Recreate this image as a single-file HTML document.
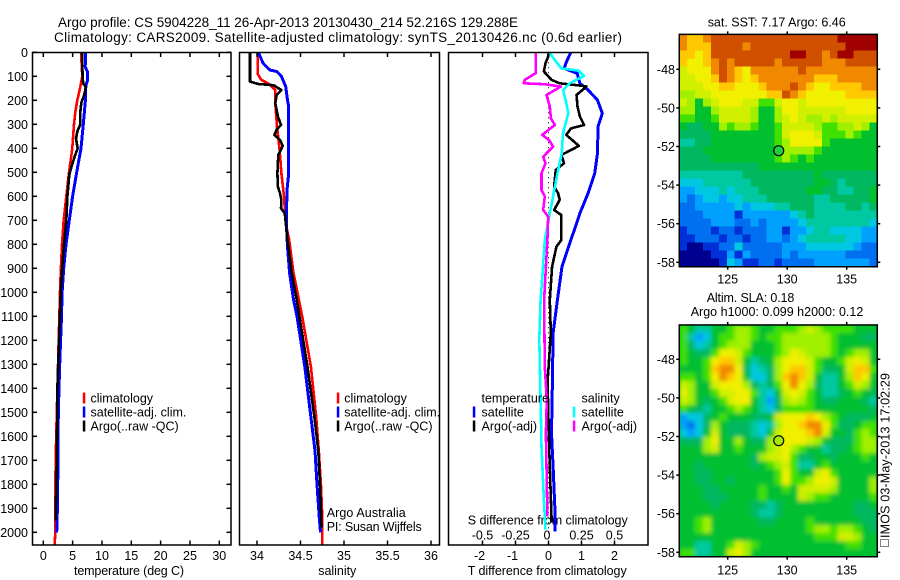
<!DOCTYPE html>
<html>
<head>
<meta charset="utf-8">
<title>Argo profile chart</title>
<style>
html,body{margin:0;padding:0;background:#fff;}
svg{display:block;}
text{font-family:"Liberation Sans",sans-serif;font-size:12.5px;fill:#000;}
</style>
</head>
<body>
<svg id="chart" width="900" height="580" viewBox="0 0 900 580" xmlns="http://www.w3.org/2000/svg">
<defs>
<filter id="soften" x="-5%" y="-5%" width="110%" height="110%"><feGaussianBlur stdDeviation="2"/></filter>
<clipPath id="sla-clip"><rect x="679.3" y="325" width="198" height="231.7"/></clipPath>
</defs>
<rect width="900" height="580" fill="#fff"/>
<text x="58" y="27" style="font-size:13.5px" textLength="460" lengthAdjust="spacing">Argo profile: CS 5904228_11 26-Apr-2013 20130430_214 52.216S 129.288E</text>
<text x="54" y="42" style="font-size:13.5px" textLength="568" lengthAdjust="spacing">Climatology: CARS2009. Satellite-adjusted climatology: synTS_20130426.nc (0.6d earlier)</text>
<text x="74" y="575" textLength="110" lengthAdjust="spacing">temperature (deg C)</text>
<text x="318.3" y="575" textLength="38" lengthAdjust="spacing">salinity</text>
<text x="467.7" y="575" textLength="159" lengthAdjust="spacing">T difference from climatology</text>
<text x="467.7" y="524.5" textLength="160" lengthAdjust="spacing">S difference from climatology</text>
<text x="326.7" y="517" textLength="79" lengthAdjust="spacing">Argo Australia</text>
<text x="326.7" y="531" textLength="95" lengthAdjust="spacing">PI: Susan Wijffels</text>
<text x="707.7" y="26.5" textLength="138" lengthAdjust="spacing">sat. SST: 7.17 Argo: 6.46</text>
<text x="706.7" y="302" textLength="87.6" lengthAdjust="spacing">Altim. SLA: 0.18</text>
<text x="690.7" y="316" textLength="172.6" lengthAdjust="spacing">Argo h1000: 0.099 h2000: 0.12</text>
<text transform="translate(889.5,538) rotate(-90)" textLength="165" lengthAdjust="spacing">IMOS 03-May-2013 17:02:29</text>
<rect x="880.5" y="539.5" width="8" height="7" fill="none" stroke="#000" stroke-width="1" stroke-dasharray="1 1"/>
<g id="layer-charts"></g>
<g id="layer-maps"></g>
</svg>
<script>
// ---- profile data ----
const tClimDepth = [0,100,150,200,250,300,400,450,500,600,700,800,900,1000,1200,1400,1600,1800,2000,2050];
const tClimVal = [6.43,6.65,6.25,5.8,5.45,5.23,4.95,4.67,4.38,3.92,3.47,3.19,3.0,2.85,2.62,2.4,2.2,2.05,2.05,1.95];
const tSatDepth = [0,60,80,120,140,200,300,400,500,600,700,800,900,1000,1100,1300,1500,1700,1900,2000];
const tSatVal = [7.22,7.15,7.5,7.5,7.25,7.17,6.82,6.43,5.69,5.0,4.43,3.87,3.47,3.2,3.1,2.8,2.56,2.5,2.4,2.28];
const tArgoDepth = [0,100,130,145,180,210,250,300,330,360,400,430,480,510,600,700,800,900,1000,1200,1400,1600,1800,1950];
const tArgoVal = [6.6,6.7,6.8,7.28,6.94,6.48,6.3,6.3,5.8,5.57,5.86,5.4,4.78,4.43,4.1,3.92,3.53,3.2,2.96,2.68,2.4,2.33,2.22,2.1];

const sClimDepth = [0,90,115,130,157,212,310,407,504,600,712,782,920,1030,1100,1310,1520,1660,1800,1940,2053];
const sClimVal = [34.008,34.008,34.05,34.13,34.21,34.21,34.23,34.26,34.28,34.31,34.33,34.37,34.42,34.48,34.52,34.62,34.68,34.71,34.735,34.75,34.75];
const sSatDepth = [0,46,74,80,100,143,199,226,504,574,712,810,920,1030,1100,1310,1520,1660,1800,1940,2000];
const sSatVal = [34.015,34.07,34.15,34.226,34.28,34.33,34.35,34.364,34.364,34.345,34.337,34.35,34.375,34.42,34.46,34.55,34.62,34.667,34.69,34.716,34.73];
const sArgoDepth = [0,122,132,137,157,178,212,268,303,322,344,365,390,428,462,504,560,587,615,650,671,782,920,1030,1100,1310,1520,1660,1800,1980];
const sArgoVal = [33.92,33.92,34.015,34.19,34.28,34.226,34.21,34.24,34.276,34.226,34.2,34.264,34.295,34.245,34.24,34.234,34.24,34.264,34.28,34.276,34.32,34.35,34.4,34.456,34.487,34.58,34.66,34.705,34.724,34.743];

const dtSatDepth = [0,39,67,88,129,157,199,254,310,421,504,587,671,782,893,1032,1170,1350,1587,1726,1893,1997];
const dtSatVal = [0.68,0.545,0.475,0.87,0.95,1.2,1.485,1.63,1.5,1.485,1.4,1.2,0.95,0.68,0.41,0.27,0.14,0.12,0.09,0.14,0.19,0.19];
const dtArgoDepth = [0,18,46,80,115,129,139,143,178,226,268,303,317,344,390,428,462,490,560,587,615,657,678,782,810,893,1032,1170,1336,1364,1587,1726,1935,1960];
const dtArgoVal = [0.01,-0.01,-0.09,-0.14,0.09,0.34,1.0,1.15,0.85,0.88,0.95,1.08,0.68,0.54,0.92,0.39,0.47,0.22,0.17,0.29,0.34,0.17,0.39,0.39,0.24,0.11,0.04,0.07,-0.01,-0.03,0.01,0.04,0.09,0.09];
const dsSatDepth = [0,32,67,76,99,129,157,199,254,338,421,504,671,782,920,1032,1198,1448,1642,1864,1989];
const dsSatVal = [0.005,0.048,0.098,0.225,0.268,0.16,0.11,0.13,0.15,0.11,0.1,0.068,0.01,-0.028,-0.045,-0.06,-0.07,-0.06,-0.053,-0.035,-0.023];
const dsArgoDepth = [0,87,115,129,133,143,178,226,275,303,344,365,393,435,462,504,574,600,657,685,782,1032,1309,1448,1587,1795,1935];
const dsArgoVal = [-0.096,-0.098,-0.18,-0.187,-0.028,0.093,-0.015,0.01,0.018,0.048,-0.048,0.003,0.035,-0.04,-0.023,-0.053,-0.053,-0.028,-0.04,-0.002,-0.008,-0.033,-0.028,-0.013,-0.02,-0.013,-0.008];
const zeroLineDepth = [0,2050];
const zeroLineVal = [0,0];

// ---- tick labels ----
const depthTicks = [0,100,200,300,400,500,600,700,800,900,1000,1100,1200,1300,1400,1500,1600,1700,1800,1900,2000];
const tempTicks = [0,5,10,15,20,25,30];
const salTicks = [34,34.5,35,35.5,36];
const dtTicks = [-2,-1,0,1,2];
const dsTicks = [-0.5,-0.25,0,0.25,0.5];
const lonTicks = [125,130,135];
const latTicks = [-48,-50,-52,-54,-56,-58];

// ---- legend text ----
const legendProfile = ['climatology','satellite-adj. clim.','Argo(..raw -QC)'];
const legendProfileColors = ['#ff0000','#0000ff','#000000'];

// ---- float position ----
const floatLon = [129.288];
const floatLat = [-52.216];

// ---- map grids: colour level per cell, north to south ----
const sstGrid = [
[13,12,12,13,14,14,14,14,14,14,14,14,14,14,14,14,14,14,14,14,15,15,15,15,15],
[13,12,12,12,14,14,14,14,13,14,14,14,14,14,14,14,14,14,14,14,14,15,15,15,15],
[12,12,11,12,14,14,14,14,14,14,14,14,14,14,15,15,14,14,13,14,15,15,14,14,14],
[12,11,11,12,13,14,13,14,14,14,14,14,13,14,14,14,14,14,13,13,13,14,14,14,14],
[10,11,11,11,13,14,13,12,11,13,13,13,13,13,13,14,13,13,13,13,13,13,13,13,13],
[10,10,11,11,12,14,13,12,11,12,13,13,13,13,13,13,13,12,12,12,13,13,13,13,13],
[10,10,10,11,11,12,12,11,11,11,12,13,13,13,14,13,12,11,11,12,12,12,12,13,13],
[9,9,10,10,11,11,11,11,11,11,11,12,12,14,13,12,11,11,11,11,11,12,12,12,12],
[10,9,7,9,10,11,11,11,10,10,8,8,10,11,11,10,11,11,11,11,11,11,11,11,11],
[9,9,7,7,9,10,10,10,10,9,7,7,9,11,11,10,10,10,10,10,10,11,11,11,11],
[8,8,7,7,8,10,10,10,10,9,7,7,9,10,11,10,9,9,10,9,10,10,10,10,10],
[7,6,6,7,7,9,8,9,9,8,7,7,8,10,10,10,10,9,8,8,9,9,10,9,7],
[6,6,6,6,7,7,7,7,7,7,7,7,8,10,11,11,11,10,8,8,8,9,8,7,7],
[5,5,6,6,7,7,7,7,7,7,7,7,8,9,11,11,11,11,8,7,7,7,7,7,7],
[6,6,6,7,7,7,7,7,7,7,7,7,8,9,9,9,9,8,7,7,7,7,7,7,7],
[6,6,6,6,7,7,7,7,7,7,7,7,8,9,8,7,8,7,7,7,7,7,7,7,7],
[6,6,6,6,6,6,6,6,6,6,7,7,7,7,7,7,7,7,7,7,7,7,7,7,7],
[5,5,5,5,5,5,5,5,6,6,6,6,6,6,6,6,6,7,6,6,6,6,6,6,6],
[4,4,4,5,5,5,5,5,5,6,6,6,6,6,6,6,6,7,7,6,5,6,6,6,6],
[3,3,4,4,4,5,4,5,5,5,6,6,6,6,6,6,7,7,6,6,5,5,6,6,7],
[3,2,3,4,4,3,4,4,5,5,5,6,6,6,6,6,6,5,5,6,6,6,6,6,7],
[2,2,3,3,3,3,3,4,3,4,4,4,5,5,6,6,6,5,5,5,5,6,6,5,6],
[2,2,2,3,3,3,3,1,3,3,3,3,3,3,4,5,6,5,5,5,5,5,5,5,5],
[2,2,2,2,3,3,3,2,2,3,2,3,3,3,3,4,5,5,5,5,5,5,5,5,4],
[1,2,2,2,1,2,2,1,2,2,2,3,3,1,3,3,4,5,5,4,4,4,4,3,3],
[1,1,2,2,2,1,2,2,1,2,2,3,3,2,3,4,5,5,5,5,5,4,4,3,3],
[1,0,0,1,1,2,2,4,2,2,2,2,2,3,3,3,4,4,4,4,4,4,3,2,2],
[0,0,0,0,1,1,3,1,3,2,2,2,2,3,2,3,3,3,3,3,3,2,2,2,2],
[0,0,0,0,0,1,4,3,1,1,2,2,1,2,2,2,2,3,3,3,3,3,3,3,2]
];
const slaGrid = [
[8,7,5,5,7,7,8,9,9,8,7,7,8,8,8,9,10,9,8,8,8,8,7,7,7],
[8,5,3,4,7,8,8,9,9,8,7,8,8,9,9,9,9,9,9,8,7,7,7,6,6],
[8,6,4,5,7,8,9,9,9,7,7,7,8,9,9,9,9,9,9,8,7,7,7,7,7],
[8,7,6,6,8,11,11,10,8,7,7,7,8,9,11,10,9,9,9,8,7,8,9,9,7],
[8,7,7,8,11,12,12,10,7,5,6,7,9,11,11,11,10,8,7,7,8,10,11,10,7],
[7,7,7,8,12,13,13,11,6,4,5,6,9,11,12,12,10,8,6,6,7,10,12,12,8],
[8,8,7,8,11,13,12,11,7,4,4,6,9,12,13,12,10,7,5,5,7,9,12,11,7],
[10,9,7,7,10,11,11,11,9,6,5,6,8,11,13,11,9,6,5,5,7,8,10,9,7],
[11,9,7,7,8,10,10,11,11,8,5,4,7,10,11,10,8,7,5,5,6,7,8,7,6],
[10,9,7,6,7,8,10,11,11,7,5,3,6,9,10,9,8,7,6,6,7,7,7,6,5],
[8,7,6,5,7,7,8,9,8,7,5,4,6,8,8,8,8,7,7,7,7,7,7,7,6],
[3,4,4,6,7,8,7,7,7,6,6,7,10,11,11,11,12,11,9,8,7,6,6,6,7],
[3,2,4,6,9,7,6,6,6,5,4,5,9,11,11,12,13,13,11,8,6,6,7,8,8],
[4,3,4,7,10,7,6,6,6,5,4,7,10,11,11,11,12,13,10,7,7,6,8,9,8],
[6,6,6,9,11,7,7,9,7,6,6,9,10,11,11,11,10,9,7,6,6,6,8,9,9],
[7,7,7,9,10,7,7,8,7,7,7,9,10,11,9,8,7,7,5,6,6,7,8,9,9],
[7,7,7,7,7,7,7,7,7,6,9,10,10,11,8,6,6,7,7,6,7,7,7,8,7],
[7,7,6,7,7,7,7,7,7,6,7,8,9,10,8,5,5,7,8,7,7,7,7,7,7],
[7,7,6,6,7,7,7,7,7,7,7,7,8,11,8,7,7,10,11,8,7,7,7,7,7],
[7,7,6,6,7,7,6,7,7,7,7,7,8,11,8,8,9,11,11,10,7,7,7,7,9],
[7,7,7,6,6,7,7,7,7,7,8,7,7,8,7,10,10,10,10,9,7,7,7,7,9],
[7,7,7,6,6,6,7,7,7,7,8,7,7,7,7,10,9,8,8,7,7,7,7,7,8],
[7,7,7,7,6,7,7,7,7,6,6,5,6,7,7,7,7,7,7,7,7,7,6,6,7],
[7,7,7,7,7,7,7,7,7,6,5,5,6,7,7,7,7,7,7,7,7,7,6,6,6],
[7,7,8,9,7,7,7,7,7,7,6,6,7,7,7,7,8,7,7,7,7,7,7,6,6],
[7,7,8,9,7,7,7,7,7,7,7,7,7,7,7,7,8,9,9,8,9,9,8,7,6],
[7,7,7,7,7,7,7,7,7,7,7,7,7,7,7,7,7,8,8,8,10,10,9,7,7],
[7,7,5,5,7,7,8,10,9,8,7,7,7,7,7,7,7,7,7,7,7,8,8,7,7],
[8,8,5,5,7,7,10,11,9,7,7,7,7,7,7,7,7,7,7,7,7,7,7,7,7]
];

// ---- rendering ----
const SVGNS = 'http://www.w3.org/2000/svg';
const charts = document.getElementById('layer-charts');
const maps = document.getElementById('layer-maps');
const colormap = ['#000090','#0030d8','#0070f0','#00a0ff','#00c8e0','#00c8a0','#00b860','#00c030','#40e000','#a0f000','#d0f000','#f0f000','#ffc800','#f08800','#d05000','#a00000'];

const yDepth = d => 52.3 + d * 0.24;
const xTemp = v => 43.3 + v * 5.867;
const xSal = v => 257 + (v - 34) * 87;
const xDT = v => 548.5 + v * 33;
const xDS = v => 548.5 + v * 132;
const xLon = v => 727.7 + (v - 125) * 11.9;
const ySstLat = v => 69.3 + (-48 - v) * 19.3;
const ySlaLat = v => 359.3 + (-48 - v) * 19.3;

function el(tag, attrs, parent) {
  const e = document.createElementNS(SVGNS, tag);
  for (const k in attrs) e.setAttribute(k, attrs[k]);
  parent.appendChild(e);
  return e;
}
function drawLine(parent, x1, y1, x2, y2, name) {
  const l = el('line', {x1: x1, y1: y1, x2: x2, y2: y2, stroke: '#000', 'stroke-width': 1.5}, parent);
  
  
  return l;
}
function label(parent, x, y, str, anchor, name) {
  const t = el('text', {x: x, y: y, 'text-anchor': anchor}, parent);
  t.textContent = str;
  
  
  return t;
}
function box(parent, x, y, w, h, name) {
  const r = el('rect', {x: x, y: y, width: w, height: h, fill: 'none', stroke: '#000', 'stroke-width': 1.5}, parent);
  
  
}
function series(parent, depths, vals, xf, color, width, name, dash) {
  const pts = depths.map((d, i) => xf(vals[i]).toFixed(1) + ',' + yDepth(d).toFixed(1)).join(' ');
  const p = el('polyline', {points: pts, fill: 'none', stroke: color, 'stroke-width': width, 'shape-rendering': dash ? 'auto' : 'crispEdges', 'stroke-linejoin': 'round'}, parent);
  if (dash) p.setAttribute('stroke-dasharray', dash);
  
  
}
function swatch(parent, x, y, color, name) {
  const r = el('rect', {x: x - 1.2, y: y - 5.5, width: 2.5, height: 11, fill: color}, parent);
  
  
}

const panelTop = 52.5, panelBottom = 545;

// temperature panel
const g1 = el('g', {}, charts);


series(g1, tClimDepth, tClimVal, xTemp, '#ff0000', 2.6, 'temperature-climatology-line');
series(g1, tSatDepth, tSatVal, xTemp, '#0000ff', 3, 'temperature-satellite-line');
series(g1, tArgoDepth, tArgoVal, xTemp, '#000000', 2.6, 'temperature-argo-line');
box(g1, 32.5, panelTop, 198.5, panelBottom - panelTop, 'temperature-panel-frame');
depthTicks.forEach(d => {
  drawLine(g1, 32.5, yDepth(d), 37, yDepth(d), 'depth-tick-left');
  drawLine(g1, 226.5, yDepth(d), 231, yDepth(d), 'depth-tick-right');
  label(g1, 28, yDepth(d) + 4.5, String(d), 'end', 'depth-tick-label');
});
tempTicks.forEach(v => {
  drawLine(g1, xTemp(v), panelTop, xTemp(v), panelTop + 4.5, 'temperature-tick-top');
  drawLine(g1, xTemp(v), panelBottom, xTemp(v), panelBottom - 4.5, 'temperature-tick-bottom');
  label(g1, xTemp(v), 560, String(v), 'middle', 'temperature-tick-label');
});
legendProfile.forEach((s, i) => {
  swatch(g1, 84, 398 + i * 14, legendProfileColors[i], 'temperature-legend-swatch');
  label(g1, 90.5, 402.5 + i * 14, s, 'start', 'temperature-legend-entry');
});

// salinity panel
const g2 = el('g', {}, charts);


series(g2, sClimDepth, sClimVal, xSal, '#ff0000', 2.6, 'salinity-climatology-line');
series(g2, sSatDepth, sSatVal, xSal, '#0000ff', 3, 'salinity-satellite-line');
series(g2, sArgoDepth, sArgoVal, xSal, '#000000', 2.6, 'salinity-argo-line');
box(g2, 239.5, panelTop, 200, panelBottom - panelTop, 'salinity-panel-frame');
salTicks.forEach(v => {
  drawLine(g2, xSal(v), panelTop, xSal(v), panelTop + 4.5, 'salinity-tick-top');
  drawLine(g2, xSal(v), panelBottom, xSal(v), panelBottom - 4.5, 'salinity-tick-bottom');
  label(g2, xSal(v), 560, String(v), 'middle', 'salinity-tick-label');
});
legendProfile.forEach((s, i) => {
  swatch(g2, 338, 398 + i * 14, legendProfileColors[i], 'salinity-legend-swatch');
  label(g2, 344.3, 402.5 + i * 14, s, 'start', 'salinity-legend-entry');
});

// difference panel
const g3 = el('g', {}, charts);


series(g3, zeroLineDepth, zeroLineVal, xDT, '#000000', 1, 'zero-difference-line', '1 4');
series(g3, dtSatDepth, dtSatVal, xDT, '#0000ff', 3, 't-difference-satellite-line');
series(g3, dtArgoDepth, dtArgoVal, xDT, '#000000', 2.6, 't-difference-argo-line');
series(g3, dsSatDepth, dsSatVal, xDS, '#00ffff', 2.6, 's-difference-satellite-line');
series(g3, dsArgoDepth, dsArgoVal, xDS, '#ff00ff', 2.6, 's-difference-argo-line');
box(g3, 448.5, panelTop, 199.5, panelBottom - panelTop, 'difference-panel-frame');
dtTicks.forEach(v => {
  drawLine(g3, xDT(v), panelTop, xDT(v), panelTop + 4.5, 't-difference-tick-top');
  drawLine(g3, xDT(v), panelBottom, xDT(v), panelBottom - 4.5, 't-difference-tick-bottom');
  label(g3, xDT(v) - (v < 0 ? 3 : 0), 560, String(v), 'middle', 't-difference-tick-label');
});
dsTicks.forEach(v => {
  label(g3, xDS(v) - (v === 0 ? 1.5 : 0), 539.5, String(v), 'middle', 's-difference-tick-label');
});
label(g3, 481.5, 402.5, 'temperature', 'start', 'temperature-legend-header');
swatch(g3, 474, 412, '#0000ff', 'temperature-satellite-swatch');
label(g3, 481.5, 416.5, 'satellite', 'start', 'temperature-satellite-entry');
swatch(g3, 474, 426, '#000000', 'temperature-argo-swatch');
label(g3, 481.5, 430.5, 'Argo(-adj)', 'start', 'temperature-argo-entry');
label(g3, 581.5, 402.5, 'salinity', 'start', 'salinity-legend-header');
swatch(g3, 574, 412, '#00ffff', 'salinity-satellite-swatch');
label(g3, 581.5, 416.5, 'satellite', 'start', 'salinity-satellite-entry');
swatch(g3, 574, 426, '#ff00ff', 'salinity-argo-swatch');
label(g3, 581.5, 430.5, 'Argo(-adj)', 'start', 'salinity-argo-entry');

// maps
function drawMap(grid, yLat, latNorth, latSouth, name, labelY, dotColor, soft) {
  const lonW = 120.93, lonE = 137.57;
  const g = el('g', {}, maps);
  
  
  const x0 = xLon(lonW), x1 = xLon(lonE), y0 = yLat(latNorth), y1 = yLat(latSouth);
  let target = g;
  if (soft) {
    const clip = el('g', {'clip-path': 'url(#sla-clip)'}, g);
    el('rect', {x: x0, y: y0, width: x1 - x0, height: y1 - y0, fill: colormap[7]}, clip);
    target = el('g', {filter: 'url(#soften)'}, clip);
  }
  const rows = grid.length, cols = grid[0].length;
  grid.forEach((row, r) => {
    row.forEach((v, c) => {
      const la = yLat(latNorth + (latSouth - latNorth) * r / rows);
      const lb = yLat(latNorth + (latSouth - latNorth) * (r + 1) / rows);
      const xa = xLon(lonW + (lonE - lonW) * c / cols);
      const xb = xLon(lonW + (lonE - lonW) * (c + 1) / cols);
      const cell = el('rect', {x: xa.toFixed(2), y: la.toFixed(2), width: (xb - xa + 0.6).toFixed(2), height: (lb - la + 0.6).toFixed(2), fill: colormap[Math.max(0, Math.min(15, Math.round(v)))], 'shape-rendering': 'crispEdges'}, target);
      
      
    });
  });
  box(g, x0, y0, x1 - x0, y1 - y0, name + '-frame');
  lonTicks.forEach(v => {
    drawLine(g, xLon(v), y0, xLon(v), y0 - 3, 'longitude-tick-top');
    drawLine(g, xLon(v), y1, xLon(v), y1 + 3, 'longitude-tick-bottom');
    label(g, xLon(v), labelY, String(v), 'middle', 'longitude-tick-label');
  });
  latTicks.forEach(v => {
    drawLine(g, x0, yLat(v), x0 - 3, yLat(v), 'latitude-tick-left');
    drawLine(g, x1, yLat(v), x1 + 3, yLat(v), 'latitude-tick-right');
    label(g, 675, yLat(v) + 4.5, String(v), 'end', 'latitude-tick-label');
  });
  const dot = el('circle', {cx: xLon(floatLon[0]), cy: yLat(floatLat[0]), r: 5, fill: dotColor, stroke: '#000', 'stroke-width': 1.2}, g);
  
  
}
drawMap(sstGrid, ySstLat, -46.19, -58.23, 'sst-map', 283.7, '#20d040', false);
drawMap(slaGrid, ySlaLat, -46.22, -58.23, 'sla-map', 574.5, '#a8e800', true);
</script>
</body>
</html>
